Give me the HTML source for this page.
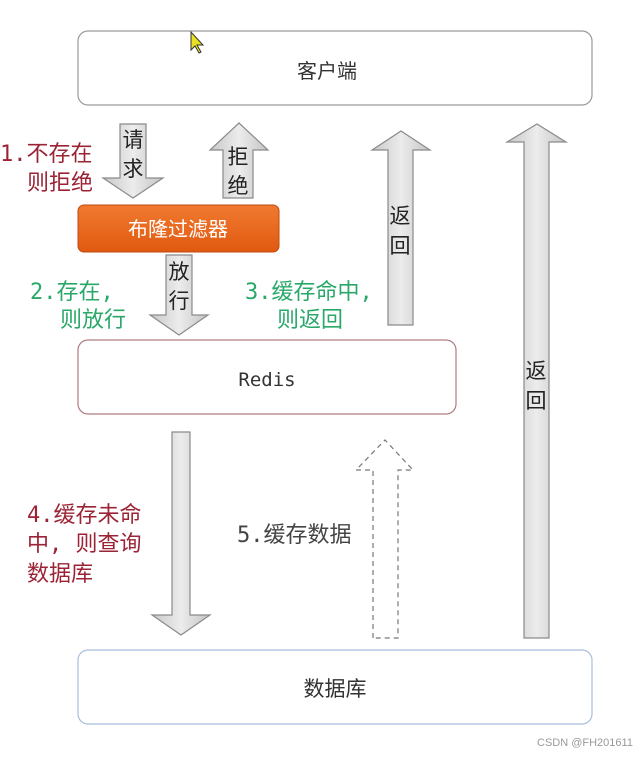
<!DOCTYPE html>
<html><head><meta charset="utf-8"><style>
body{margin:0;background:#fff;}
svg text{font-family:"Liberation Sans","Noto Sans CJK SC",sans-serif;}
svg text.m{font-family:"DejaVu Sans Mono","Noto Sans CJK SC",monospace;}
</style></head><body>
<svg width="641" height="753" viewBox="0 0 641 753" xmlns="http://www.w3.org/2000/svg">
<defs>
<linearGradient id="g" x1="0" x2="1" y1="0" y2="0"><stop offset="0" stop-color="#c8c8c8"/><stop offset="0.5" stop-color="#ececec"/><stop offset="1" stop-color="#c4c4c4"/></linearGradient>
<linearGradient id="o" x1="0" x2="0" y1="0" y2="1"><stop offset="0" stop-color="#f07a30"/><stop offset="1" stop-color="#e05a10"/></linearGradient>
</defs>
<rect width="641" height="753" fill="#fff"/>
<rect x="78" y="31" width="514" height="74" rx="10" fill="#fff" stroke="#9a9a9a" stroke-width="1.2"/>
<text x="327" y="78" font-size="20" text-anchor="middle" fill="#333">客户端</text>
<rect x="78" y="340" width="378" height="74" rx="10" fill="#fff" stroke="#b07a80" stroke-width="1.2"/>
<text class="m" x="267" y="386" font-size="19" text-anchor="middle" fill="#333">Redis</text>
<rect x="78" y="650" width="514" height="74" rx="10" fill="#fff" stroke="#a8bedc" stroke-width="1.2"/>
<text x="335" y="696" font-size="21" text-anchor="middle" fill="#333">数据库</text>
<rect x="78" y="205" width="201" height="47" rx="6" fill="url(#o)" stroke="#c04a10"/>
<text x="178" y="236" font-size="20" text-anchor="middle" fill="#fff">布隆过滤器</text>
<g stroke="#8a8a8a" stroke-width="1.2" fill="url(#g)">
<path d="M120 124 H146 V178 H163 L133 198 L103 178 H120 Z"/>
<path d="M223 198 V150 H210 L239 123 L268 150 H253 V198 Z"/>
<path d="M166 255 H192 V315 H208 L179 335 L150 315 H166 Z"/>
<path d="M388 325 V150 H372 L401 131 L430 150 H413 V325 Z"/>
<path d="M524 638 V142 H507 L537 124 L566 142 H549 V638 Z"/>
<path d="M172 432 H190 V615 H210 L181 635 L152 615 H172 Z"/>
</g>
<path d="M373 638 V470 H356 L385 440 L413 470 H398 V638 Z" fill="none" stroke="#777" stroke-width="1.2" stroke-dasharray="5,4"/>
<g font-size="21" fill="#222" text-anchor="middle">
<text x="133" y="147">请</text><text x="133" y="176">求</text>
<text x="238" y="164">拒</text><text x="238" y="193">绝</text>
<text x="179" y="279">放</text><text x="179" y="308">行</text>
<text x="400" y="223">返</text><text x="400" y="253">回</text>
<text x="536" y="378">返</text><text x="536" y="408">回</text>
</g>
<g font-size="22">
<text class="m" x="0" y="161" fill="#9b2335">1.不存在</text>
<text class="m" x="27" y="190" fill="#9b2335">则拒绝</text>
<text class="m" x="30" y="299" fill="#2aa86a">2.存在,</text>
<text class="m" x="60" y="327" fill="#2aa86a">则放行</text>
<text class="m" x="245" y="299" fill="#2aa86a">3.缓存命中,</text>
<text class="m" x="277" y="327" fill="#2aa86a">则返回</text>
<text class="m" x="27" y="522" fill="#9b2335">4.缓存未命</text>
<text class="m" x="27" y="551" fill="#9b2335">中, 则查询</text>
<text class="m" x="27" y="581" fill="#9b2335">数据库</text>
<text class="m" x="237" y="542" fill="#444">5.缓存数据</text>
</g>
<path d="M191 32 L191 50 L195 46 L199 53 L201 52 L197 45 L203 45 Z" fill="#e8e020" stroke="#333" stroke-width="1"/>
<text x="537" y="746" font-size="11" fill="#999">CSDN @FH201611</text>
</svg>
</body></html>
